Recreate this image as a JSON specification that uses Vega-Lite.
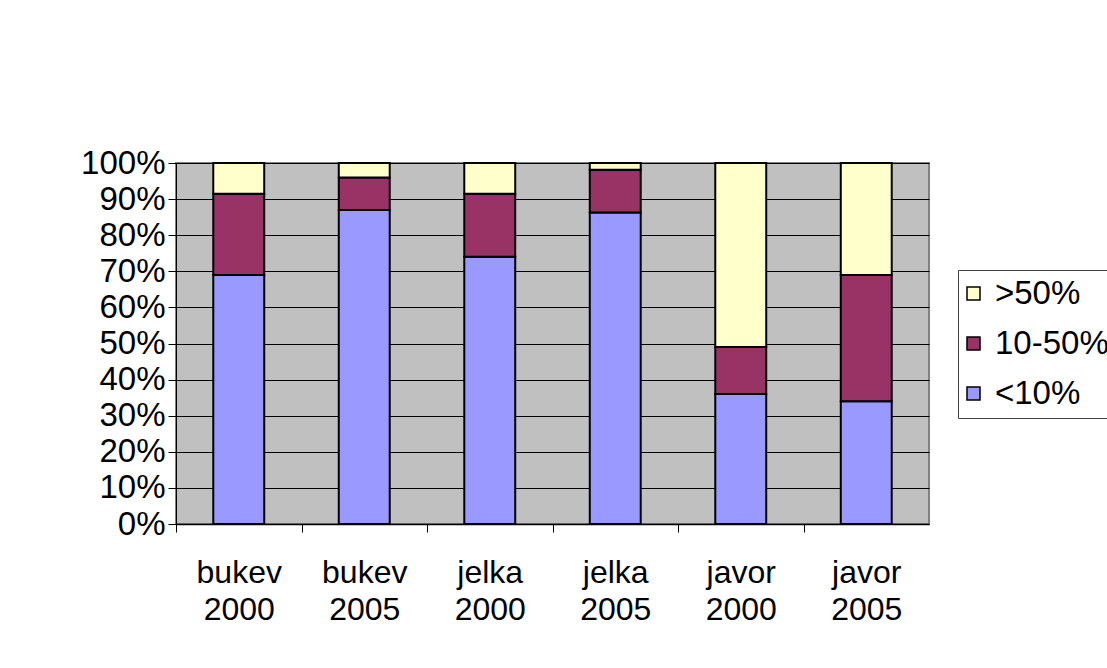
{
  "$schema": "https://vega.github.io/schema/vega-lite/v6.json",
  "width": 753,
  "height": 361,
  "autosize": {"type": "none"},
  "padding": {"left": 176, "top": 163, "right": 178, "bottom": 144},
  "background": "white",
  "config": {
    "font": "Liberation Sans",
    "view": {"fill": "#C0C0C0", "stroke": "#808080", "strokeWidth": 2}
  },
  "data": {
    "values": [
      {"cat": "bukev 2000", "cls": "<10%", "k": 1, "v": 0.69},
      {"cat": "bukev 2000", "cls": "10-50%", "k": 2, "v": 0.225},
      {"cat": "bukev 2000", "cls": ">50%", "k": 3, "v": 0.085},
      {"cat": "bukev 2005", "cls": "<10%", "k": 1, "v": 0.87},
      {"cat": "bukev 2005", "cls": "10-50%", "k": 2, "v": 0.09},
      {"cat": "bukev 2005", "cls": ">50%", "k": 3, "v": 0.04},
      {"cat": "jelka 2000", "cls": "<10%", "k": 1, "v": 0.74},
      {"cat": "jelka 2000", "cls": "10-50%", "k": 2, "v": 0.175},
      {"cat": "jelka 2000", "cls": ">50%", "k": 3, "v": 0.085},
      {"cat": "jelka 2005", "cls": "<10%", "k": 1, "v": 0.863},
      {"cat": "jelka 2005", "cls": "10-50%", "k": 2, "v": 0.118},
      {"cat": "jelka 2005", "cls": ">50%", "k": 3, "v": 0.019},
      {"cat": "javor 2000", "cls": "<10%", "k": 1, "v": 0.36},
      {"cat": "javor 2000", "cls": "10-50%", "k": 2, "v": 0.13},
      {"cat": "javor 2000", "cls": ">50%", "k": 3, "v": 0.51},
      {"cat": "javor 2005", "cls": "<10%", "k": 1, "v": 0.34},
      {"cat": "javor 2005", "cls": "10-50%", "k": 2, "v": 0.35},
      {"cat": "javor 2005", "cls": ">50%", "k": 3, "v": 0.31}
    ]
  },
  "mark": {"type": "bar", "stroke": "black", "strokeWidth": 2},
  "encoding": {
    "x": {
      "field": "cat",
      "type": "nominal",
      "sort": null,
      "scale": {"paddingInner": 0.594, "paddingOuter": 0.297},
      "axis": {
        "title": null,
        "labelAngle": 0,
        "labelFontSize": 32,
        "labelColor": "black",
        "labelExpr": "split(datum.label, ' ')",
        "labelLineHeight": 37,
        "labelPadding": 25,
        "tickSize": 8,
        "tickColor": "black",
        "tickOffset": -62.75,
        "labelOffset": 62.75,
        "domainColor": "black",
        "domainWidth": 1.5,
        "grid": false
      }
    },
    "y": {
      "field": "v",
      "type": "quantitative",
      "stack": "zero",
      "scale": {"domain": [0, 1], "nice": false},
      "axis": {
        "title": null,
        "format": ".0%",
        "values": [0, 0.1, 0.2, 0.3, 0.4, 0.5, 0.6, 0.7, 0.8, 0.9, 1],
        "labelFontSize": 33,
        "labelColor": "black",
        "labelPadding": 3,
        "tickSize": 8,
        "tickColor": "black",
        "domainColor": "black",
        "grid": true,
        "gridColor": "black",
        "gridWidth": 1,
        "gridOpacity": 1
      }
    },
    "order": {"field": "k", "type": "quantitative"},
    "color": {
      "field": "cls",
      "type": "nominal",
      "scale": {
        "domain": [">50%", "10-50%", "<10%"],
        "range": ["#FFFFCC", "#993366", "#9999FF"]
      },
      "legend": {
        "title": null,
        "orient": "none",
        "legendX": 782,
        "legendY": 107,
        "strokeColor": "#404040",
        "fillColor": "white",
        "padding": 7,
        "rowPadding": 16,
        "symbolType": "square",
        "symbolSize": 169,
        "symbolOffset": -8,
        "symbolStrokeColor": "black",
        "symbolStrokeWidth": 1.5,
        "symbolOpacity": 1,
        "labelFontSize": 33,
        "labelColor": "black",
        "labelOffset": 5,
        "labelLimit": 300
      }
    }
  }
}
